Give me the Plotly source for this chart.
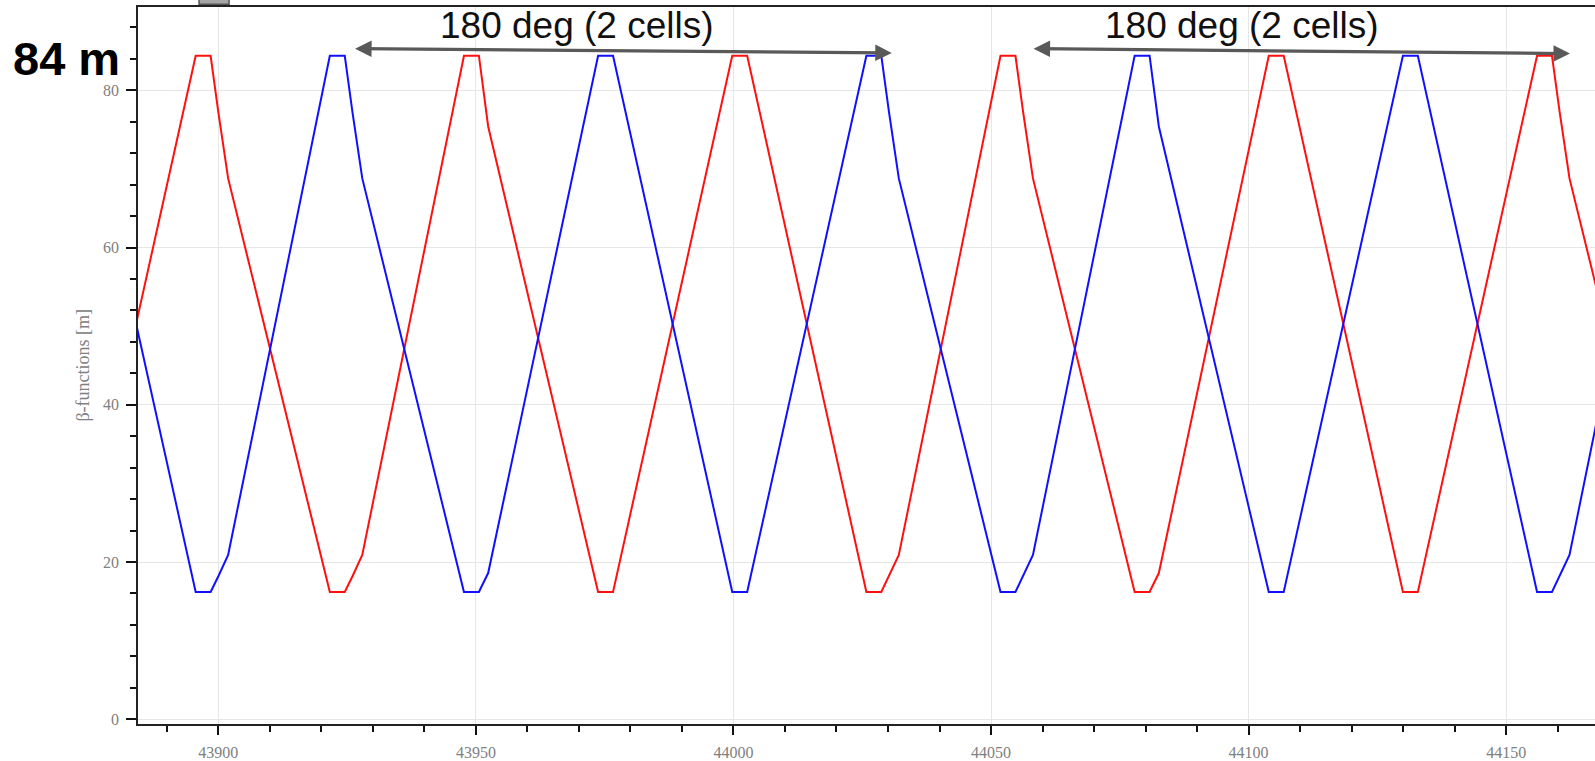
import plotly.graph_objects as go

# Longitudinal position s [m] (element boundaries) and beta functions [m]
s_pos = [43869.56, 43872.46, 43895.60, 43898.50, 43900.00, 43901.90, 43921.64, 43924.54,
         43926.04, 43927.94, 43947.68, 43950.58, 43952.38, 43973.72, 43976.62, 43999.76,
         44002.66, 44025.80, 44028.70, 44030.20, 44032.10, 44051.84, 44054.74, 44056.24,
         44058.14, 44077.88, 44080.78, 44082.58, 44103.92, 44106.82, 44129.96, 44132.86,
         44156.00, 44158.90, 44160.40, 44162.30, 44182.04]
beta_red = [16.2, 16.2, 84.4, 84.4, 77.2, 68.8, 16.2, 16.2, 18.2, 20.9, 84.4, 84.4, 75.4,
            16.2, 16.2, 84.4, 84.4, 16.2, 16.2, 18.2, 20.9, 84.4, 84.4, 77.2, 68.8, 16.2,
            16.2, 18.6, 84.4, 84.4, 16.2, 16.2, 84.4, 84.4, 77.2, 68.8, 16.2]
beta_blue = [84.4, 84.4, 16.2, 16.2, 18.2, 20.9, 84.4, 84.4, 77.2, 68.8, 16.2, 16.2, 18.6,
             84.4, 84.4, 16.2, 16.2, 84.4, 84.4, 77.2, 68.8, 16.2, 16.2, 18.2, 20.9, 84.4,
             84.4, 75.4, 16.2, 16.2, 84.4, 84.4, 16.2, 16.2, 18.2, 20.9, 84.4]

# Annotations: double arrows spanning 2 cells
arrow_text = ["180 deg (2 cells)", "180 deg (2 cells)"]
arrow_text_x = [43969.6, 44098.7]
arrow_text_y = [88.2, 88.2]
arrow_start_x = [43926.25, 44057.97]
arrow_start_y = [85.30, 85.30]
arrow_end_x = [44030.73, 44162.39]
arrow_end_y = [84.75, 84.67]

x_range = [43884.4, 44167.25]
y_range = [-0.6, 90.6]

fig = go.Figure()
fig.add_trace(go.Scatter(x=s_pos, y=beta_red, mode="lines",
                         line=dict(color="#ff1010", width=2), showlegend=False))
fig.add_trace(go.Scatter(x=s_pos, y=beta_blue, mode="lines",
                         line=dict(color="#1010ff", width=2), showlegend=False))

annotations = []
for t, tx, ty, x0, y0, x1, y1 in zip(arrow_text, arrow_text_x, arrow_text_y,
                                     arrow_start_x, arrow_start_y, arrow_end_x, arrow_end_y):
    annotations.append(dict(x=x1, y=y1, ax=x0, ay=y0, xref="x", yref="y", axref="x", ayref="y",
                            text="", showarrow=True, arrowhead=2, arrowsize=1, arrowwidth=3.3,
                            arrowcolor="#595959", arrowside="end+start"))
    annotations.append(dict(x=tx, y=ty, xref="x", yref="y", text=t, showarrow=False,
                            xanchor="center", yanchor="middle",
                            font=dict(family="Liberation Sans, Arial", size=37, color="#111111")))

annotations.append(dict(x=-0.0494, y=84, xref="paper", yref="y", text="<b>84 m</b>",
                        showarrow=False, xanchor="center", yanchor="middle",
                        font=dict(family="Liberation Sans, Arial", size=47, color="#000000")))
annotations.append(dict(x=-0.0384, y=0.5, xref="paper", yref="paper", text="β-functions [m]",
                        textangle=-90, showarrow=False, xanchor="center", yanchor="middle",
                        font=dict(family="Liberation Serif, Times New Roman, serif", size=18,
                                  color="#808080")))

tick_font = dict(family="Liberation Serif, Times New Roman, serif", size=16, color="#808080")

fig.update_layout(
    width=1595, height=761,
    margin=dict(l=138, r=0, t=7, b=32, pad=0),
    paper_bgcolor="white", plot_bgcolor="white",
    showlegend=False,
    annotations=annotations,
    shapes=[dict(type="rect", xref="paper", yref="paper", x0=0.0419, x1=0.0625,
                 y0=1.0037, y1=1.012, fillcolor="#a6a6a6",
                 line=dict(color="#555555", width=1.5))],
    xaxis=dict(range=x_range, dtick=50, tick0=0, ticks="outside", ticklen=9, tickwidth=1.5,
               tickcolor="#111111", showline=True, linecolor="#222222", linewidth=1.5,
               mirror=True, showgrid=True, gridcolor="#e6e6e6", gridwidth=1.2,
               zeroline=False, tickfont=tick_font, ticklabelstandoff=4,
               tickformat="d",
               minor=dict(dtick=10, tick0=0, ticks="outside", ticklen=6, tickwidth=1.5,
                          tickcolor="#111111", showgrid=False)),
    yaxis=dict(range=y_range, dtick=20, tick0=0, ticks="outside", ticklen=10, tickwidth=1.5,
               tickcolor="#111111", showline=True, linecolor="#222222", linewidth=1.5,
               mirror=False, showgrid=True, gridcolor="#e6e6e6", gridwidth=1.2,
               zeroline=False, tickfont=tick_font, ticklabelstandoff=4,
               minor=dict(dtick=4, tick0=0, ticks="outside", ticklen=6, tickwidth=1.5,
                          tickcolor="#111111", showgrid=False)),
)

fig.write_html("out.html", config={"displayModeBar": False},
               post_script="document.body.style.margin='0';document.body.style.overflow='hidden';")
